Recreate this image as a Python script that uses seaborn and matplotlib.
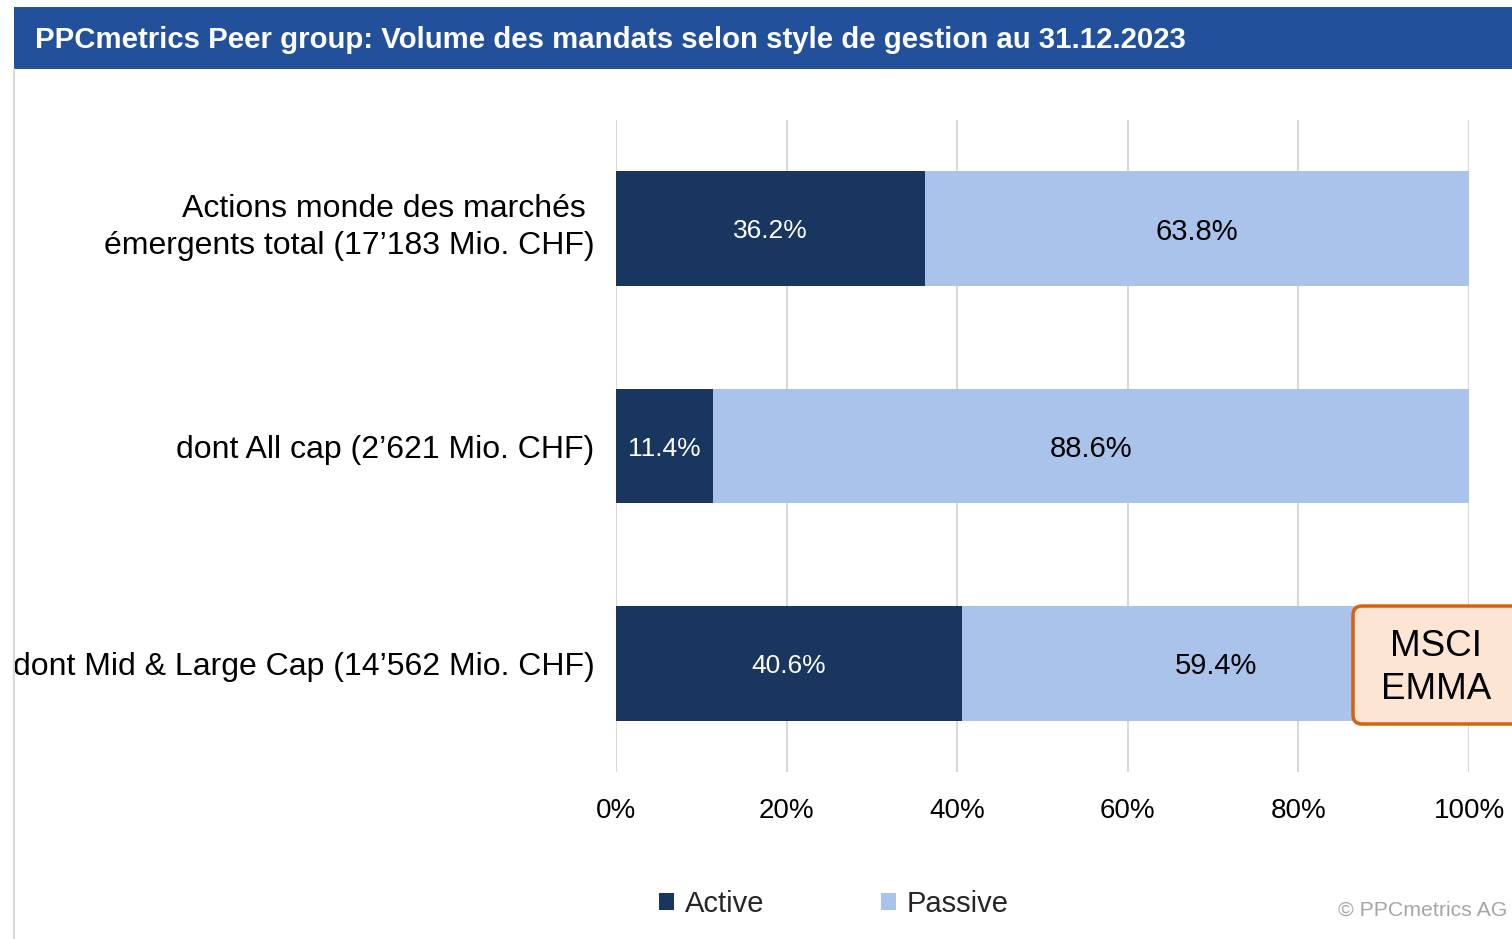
import matplotlib
matplotlib.use("Agg")
import matplotlib.pyplot as plt
from matplotlib.patches import Rectangle, FancyBboxPatch
from matplotlib.transforms import IdentityTransform, ScaledTranslation
from matplotlib.lines import Line2D
import seaborn as sns
import numpy as np
import pandas as pd

categories = [
    "Actions monde des marchés \némergents total (17’183 Mio. CHF)",
    "dont All cap (2’621 Mio. CHF)",
    "dont Mid & Large Cap (14’562 Mio. CHF)",
]
active = [36.2, 11.4, 40.6]
passive = [63.8, 88.6, 59.4]
series_names = ["Active", "Passive"]
xticks = [0, 20, 40, 60, 80, 100]
xtick_labels = ["0%", "20%", "40%", "60%", "80%", "100%"]
title = "PPCmetrics Peer group: Volume des mandats selon style de gestion au 31.12.2023"
box_text = "MSCI\nEMMA"
credit = "© PPCmetrics AG"

C_ACTIVE = "#18365F"
C_PASSIVE = "#A9C3EB"
C_TITLE = "#22509A"

sns.set_theme(style="white")
plt.rcParams["font.family"] = ["Liberation Sans", "DejaVu Sans"]

W, H = 1512, 939
fig = plt.figure(figsize=(W / 100, H / 100), dpi=100)
ax = fig.add_axes([616 / W, 1 - 772 / H, (1469 - 616) / W, (772 - 120) / H])

df = pd.DataFrame({"cat": categories, "active": active, "passive": passive})
df["total"] = df["active"] + df["passive"]

sns.barplot(data=df, x="total", y="cat", orient="h", color=C_PASSIVE,
            saturation=1, width=0.527, linewidth=0, ax=ax, zorder=2)
sns.barplot(data=df, x="active", y="cat", orient="h", color=C_ACTIVE,
            saturation=1, width=0.527, linewidth=0, ax=ax, zorder=3)

for i, (a, p) in enumerate(zip(active, passive)):
    ax.text(a / 2, i, f"{a:.1f}%", color="white", fontsize=19,
            ha="center", va="center_baseline", zorder=5)
    ax.text(a + p / 2, i, f"{p:.1f}%", color="black", fontsize=21,
            ha="center", va="center_baseline", zorder=5)

ax.set_xlim(0, 100)
ax.set_ylim(2.5, -0.5)
ax.set_xticks(xticks)
ax.set_xticklabels(xtick_labels, fontsize=20, color="black")
ax.set_yticks(range(len(categories)))
ax.set_yticklabels(categories, fontsize=23, color="black")
ax.tick_params(axis="x", length=0, pad=18.5)
ax.tick_params(axis="y", length=0, pad=15.5)
ylabels = ax.get_yticklabels()
for lbl in ylabels:
    lbl.set_multialignment("right")
    lbl.set_linespacing(1.34)
ylabels[0].set_transform(ylabels[0].get_transform()
                         + ScaledTranslation(0, 0.085, fig.dpi_scale_trans))
ax.set_xlabel("")
ax.set_ylabel("")
for s in ax.spines.values():
    s.set_visible(False)
ax.xaxis.grid(True, color="#D9D9D9", linewidth=1.5, zorder=0)
ax.yaxis.grid(False)
ax.set_axisbelow(True)

# title band
fig.add_artist(Rectangle((14 / W, 1 - 69 / H), 1 - 14 / W, 62 / H,
                         transform=fig.transFigure, facecolor=C_TITLE,
                         edgecolor="none", zorder=1))
fig.text(35 / W, 1 - 40 / H, title, color="white", fontsize=21.15,
         fontweight="bold", ha="left", va="center")
# left frame line
fig.add_artist(Line2D([14 / W, 14 / W], [0, 1 - 69 / H], transform=fig.transFigure,
                      color="#D9D9D9", linewidth=1.5))

# legend
handles = [Rectangle((0, 0), 1, 1, facecolor=C_ACTIVE, edgecolor="none"),
           Rectangle((0, 0), 1, 1, facecolor=C_PASSIVE, edgecolor="none")]
fig.legend(handles, series_names, loc="center",
           bbox_to_anchor=(834 / W, 1 - 904 / H), ncol=2, frameon=False,
           fontsize=21, handlelength=0.52, handleheight=0.52,
           handletextpad=0.36, columnspacing=4.0)

# MSCI EMMA box
box = FancyBboxPatch((1353, H - 724), 200, 118,
                     boxstyle="round,pad=0,rounding_size=9",
                     transform=IdentityTransform(), facecolor="#FDE5D3",
                     edgecolor="#D9600C", linewidth=2.5, zorder=10)
fig.add_artist(box)
fig.text(1436 / W, 1 - 668 / H, box_text, fontsize=26.5, ha="center",
         va="center", color="black", zorder=11, linespacing=1.27)

fig.text(1507 / W, 1 - 910 / H, credit, fontsize=15.3, color="#A6A6A6",
         ha="right", va="center")

fig.savefig("out.png", dpi=100)
